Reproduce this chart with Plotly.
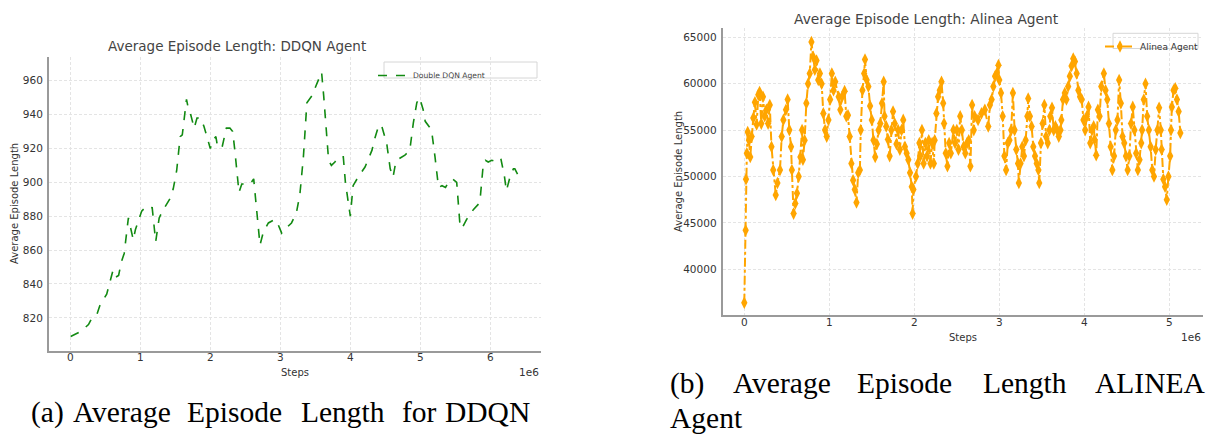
import plotly.graph_objects as go

W, H = 1212, 434

# ---------------- data ----------------
DDQN_STEPS_M = [0.005, 0.09, 0.15, 0.26, 0.31, 0.38, 0.42, 0.52, 0.59, 0.61,
                0.65, 0.69, 0.73, 0.77, 0.83, 0.90, 0.93, 1.02, 1.09, 1.17,
                1.22, 1.27, 1.33, 1.38, 1.42, 1.47, 1.52, 1.57, 1.60, 1.66,
                1.68, 1.72, 1.77, 1.81, 1.86, 1.91, 2.00, 2.04, 2.08, 2.10,
                2.14, 2.17, 2.23, 2.28, 2.32, 2.35, 2.41, 2.45, 2.52, 2.57,
                2.62, 2.71, 2.76, 2.83, 2.92, 2.95, 3.02, 3.06, 3.16, 3.23,
                3.28, 3.33, 3.38, 3.42, 3.45, 3.50, 3.56, 3.59, 3.62, 3.69,
                3.73, 3.78, 3.83, 3.90, 3.93, 4.00, 4.04, 4.11, 4.21, 4.31,
                4.35, 4.41, 4.45, 4.52, 4.57, 4.61, 4.65, 4.70, 4.78, 4.85,
                4.90, 4.95, 4.99, 5.04, 5.07, 5.13, 5.16, 5.21, 5.26, 5.31,
                5.36, 5.40, 5.46, 5.52, 5.57, 5.61, 5.66, 5.76, 5.81, 5.85,
                5.90, 5.93, 5.97, 6.02, 6.09, 6.15, 6.20, 6.23, 6.28, 6.33,
                6.35, 6.40]
DDQN_LENGTH = [809, 811, 812, 816, 820, 822, 827, 834, 846, 848,
               844, 845, 853, 858, 879, 866, 872, 883, 886, 885,
               865, 879, 884, 887, 890, 896, 907, 927, 928, 949,
               945, 940, 932, 938, 938, 933, 920, 925, 927, 922,
               923, 921, 932, 932, 930, 919, 894, 899, 899, 899,
               902, 863, 871, 876, 878, 877, 870, 872, 876, 882,
               893, 915, 947, 949, 951, 956, 962, 965, 951, 913,
               910, 912, 915, 915, 900, 880, 898, 903, 909, 919,
               926, 934, 933, 923, 908, 903, 912, 914, 916, 919,
               935, 947, 950, 943, 936, 933, 931, 915, 897, 898,
               897, 900, 902, 900, 873, 874, 878, 884, 886, 888,
               911, 913, 912, 913, 912, 914, 904, 895, 903, 908,
               908, 904]

ALINEA_STEPS_M = [0.00, 0.016, 0.02, 0.03, 0.04, 0.055, 0.07, 0.086, 0.106, 0.125,
                  0.145, 0.165, 0.18, 0.20, 0.22, 0.24, 0.26, 0.28, 0.30, 0.32,
                  0.34, 0.37, 0.39, 0.42, 0.44, 0.46, 0.49, 0.51, 0.53, 0.55,
                  0.56, 0.58, 0.60, 0.62, 0.64, 0.66, 0.68, 0.69, 0.71, 0.73,
                  0.75, 0.77, 0.79, 0.81, 0.83, 0.85, 0.87, 0.89, 0.91, 0.93,
                  0.95, 0.97, 0.99, 1.01, 1.03, 1.05, 1.07, 1.11, 1.13, 1.15,
                  1.18, 1.20, 1.22, 1.24, 1.26, 1.28, 1.30, 1.32, 1.34, 1.36,
                  1.37, 1.39, 1.41, 1.42, 1.44, 1.46, 1.48, 1.50, 1.52, 1.54,
                  1.56, 1.58, 1.60, 1.62, 1.64, 1.65, 1.67, 1.69, 1.71, 1.73,
                  1.75, 1.77, 1.79, 1.81, 1.83, 1.85, 1.87, 1.89, 1.91, 1.93,
                  1.95, 1.97, 1.98, 1.99, 2.02, 2.04, 2.06, 2.07, 2.09, 2.11,
                  2.13, 2.15, 2.17, 2.19, 2.21, 2.23, 2.24, 2.26, 2.28, 2.30,
                  2.32, 2.34, 2.35, 2.37, 2.39, 2.41, 2.43, 2.46, 2.48, 2.50,
                  2.52, 2.54, 2.56, 2.58, 2.60, 2.62, 2.64, 2.66, 2.68, 2.70,
                  2.71, 2.75, 2.79, 2.83, 2.87, 2.89, 2.91, 2.93, 2.95, 2.97,
                  2.99, 3.00, 3.02, 3.04, 3.06, 3.08, 3.10, 3.12, 3.14, 3.16,
                  3.18, 3.20, 3.22, 3.23, 3.25, 3.27, 3.29, 3.31, 3.33, 3.34,
                  3.36, 3.38, 3.40, 3.42, 3.44, 3.46, 3.47, 3.49, 3.51, 3.53,
                  3.55, 3.57, 3.59, 3.60, 3.62, 3.64, 3.66, 3.68, 3.70, 3.72,
                  3.73, 3.75, 3.77, 3.79, 3.81, 3.83, 3.85, 3.87, 3.89, 3.91,
                  3.93, 3.95, 3.97, 3.99, 4.01, 4.03, 4.05, 4.07, 4.09, 4.11,
                  4.12, 4.14, 4.16, 4.18, 4.20, 4.23, 4.25, 4.27, 4.29, 4.31,
                  4.33, 4.35, 4.37, 4.39, 4.41, 4.43, 4.45, 4.47, 4.49, 4.51,
                  4.53, 4.55, 4.57, 4.59, 4.61, 4.63, 4.65, 4.67, 4.68, 4.70,
                  4.72, 4.74, 4.76, 4.78, 4.80, 4.82, 4.84, 4.86, 4.88, 4.90,
                  4.91, 4.93, 4.95, 4.97, 4.99, 5.01, 5.02, 5.03, 5.05, 5.07,
                  5.09, 5.11, 5.13]
ALINEA_LENGTH = [36400, 44200, 49700, 52500, 54800, 53900, 52100, 54300, 56300, 58000,
                 55600, 58800, 59100, 55700, 58600, 56500, 57200, 55700, 57700, 53200,
                 50700, 48000, 49300, 50700, 54300, 56100, 57200, 58300, 55000, 53200,
                 50700, 46000, 47100, 48200, 50000, 52100, 55000, 51800, 53900, 57900,
                 60000, 61100, 64500, 62900, 61500, 62500, 60400, 61100, 60000, 56800,
                 55000, 54300, 56100, 58300, 61100, 59300, 60200, 58600, 57200, 58600,
                 59200, 56500, 56600, 54300, 51400, 49600, 48600, 47200, 50400, 50700,
                 55000, 59300, 61100, 62600, 60400, 59700, 57600, 56100, 53900, 52100,
                 53500, 55000, 55700, 57900, 60200, 56500, 55400, 54000, 52200, 55000,
                 57000, 55700, 53500, 55000, 52900, 55000, 56100, 53200, 52500, 51800,
                 50400, 48900, 46000, 48600, 50000, 51400, 53600, 52200, 55000, 51400,
                 53600, 52200, 53900, 51400, 53600, 51400, 53900, 56800, 58600, 59300,
                 60200, 57900, 55700, 52500, 51100, 53600, 52500, 55000, 53600, 55000,
                 52900, 56500, 55000, 53200, 52500, 53600, 53900, 51100, 57700, 55000,
                 56500, 56100, 56800, 57200, 55400, 57700, 58300, 59700, 60800, 61100,
                 62000, 60400, 59000, 56500, 52200, 50700, 53600, 53900, 55000, 59000,
                 55000, 52900, 51400, 49300, 51400, 53200, 52200, 53900, 56500, 58400,
                 56500, 55400, 53200, 52200, 51400, 50700, 49300, 53600, 55700, 57700,
                 54300, 53600, 55000, 56500, 57400, 55000, 55400, 55000, 54300, 55000,
                 56100, 58300, 59000, 58300, 59700, 60800, 61900, 62700, 62400, 61100,
                 59300, 58600, 58300, 56100, 55000, 56500, 57500, 53600, 55000, 55400,
                 54000, 52300, 57200, 56500, 59700, 61100, 59300, 58300, 55700, 53200,
                 50700, 52200, 55000, 56100, 60400, 57900, 54300, 53600, 52200, 50700,
                 52200, 55700, 57500, 55000, 52500, 50700, 51800, 53600, 55000, 58300,
                 60000, 56500, 55000, 53200, 50700, 50000, 52900, 55000, 57400, 55000,
                 52900, 49700, 48900, 47500, 50000, 52200, 55000, 57500, 59300, 59500,
                 58300, 57000, 54700]

X_TICKS_M = [0, 1, 2, 3, 4, 5, 6]
DDQN_Y_TICKS = [820, 840, 860, 880, 900, 920, 940, 960]
ALINEA_X_TICKS_M = [0, 1, 2, 3, 4, 5]
ALINEA_Y_TICKS = [40000, 45000, 50000, 55000, 60000, 65000]

# ---------------- helpers ----------------
def px_x(p):
    return p / W

def px_y(p):
    return 1 - p / H

SANS = "DejaVu Sans"
SERIF = "Liberation Serif"
SPINE = "#9a9a9a"
GRID = "#e4e4e4"
TICKC = "#333333"

fig = go.Figure()

fig.add_trace(go.Scatter(
    x=[s * 1e6 for s in DDQN_STEPS_M], y=DDQN_LENGTH,
    mode="lines", name="Double DQN Agent",
    line=dict(color="#128a12", width=1.6, dash="dash"),
    xaxis="x", yaxis="y", legend="legend",
))
fig.add_trace(go.Scatter(
    x=[s * 1e6 for s in ALINEA_STEPS_M], y=ALINEA_LENGTH,
    mode="lines+markers", name="Alinea Agent",
    line=dict(color="#FFA500", width=2, dash="dashdot"),
    marker=dict(symbol="diamond-tall", size=9, color="#FFA500"),
    xaxis="x2", yaxis="y2", legend="legend2",
))

axis_common = dict(
    showgrid=True, gridcolor=GRID, gridwidth=0.8, griddash="3px,2px",
    showline=True, linecolor=SPINE, linewidth=2, ticks="",
    zeroline=False, tickfont=dict(family=SANS, size=10.5, color=TICKC),
)

fig.update_layout(
    width=W, height=H,
    margin=dict(l=0, r=0, t=0, b=0),
    paper_bgcolor="white", plot_bgcolor="white",
    showlegend=True,
    xaxis=dict(domain=[px_x(49), px_x(541)], range=[-0.304e6, 6.724e6],
               tickvals=[t * 1e6 for t in X_TICKS_M],
               ticktext=[str(t) for t in X_TICKS_M], anchor="y",
               ticklabelstandoff=-4, **axis_common),
    yaxis=dict(domain=[px_y(350.7), px_y(57.3)], range=[800.6, 973.8],
               tickvals=DDQN_Y_TICKS, ticktext=[str(t) for t in DDQN_Y_TICKS],
               anchor="x", ticklabelstandoff=2, **axis_common),
    xaxis2=dict(domain=[px_x(722.7), px_x(1203.3)], range=[-0.254e6, 5.4e6],
                tickvals=[t * 1e6 for t in ALINEA_X_TICKS_M],
                ticktext=[str(t) for t in ALINEA_X_TICKS_M], anchor="y2",
                ticklabelstandoff=-4, **axis_common),
    yaxis2=dict(domain=[px_y(315.3), px_y(28.3)], range=[35043, 65970],
                tickvals=ALINEA_Y_TICKS,
                ticktext=[str(t) for t in ALINEA_Y_TICKS], anchor="x2",
                ticklabelstandoff=2, **axis_common),
    legend=dict(x=px_x(373), y=px_y(61), xanchor="left", yanchor="top",
                bgcolor="rgba(0,0,0,0)", borderwidth=0,
                font=dict(family=SANS, size=7.6, color="#444")),
    legend2=dict(x=px_x(1100), y=px_y(32), xanchor="left", yanchor="top",
                 bgcolor="rgba(0,0,0,0)", borderwidth=0,
                 font=dict(family=SANS, size=9, color="#333")),
)

# legend frames
fig.add_shape(type="rect", xref="paper", yref="paper",
              x0=px_x(384), x1=px_x(537), y0=px_y(78), y1=px_y(62),
              line=dict(color="#d6d6d6", width=1), fillcolor="white", layer="below")
fig.add_shape(type="rect", xref="paper", yref="paper",
              x0=px_x(1113), x1=px_x(1198), y0=px_y(48.5), y1=px_y(33.3),
              line=dict(color="#d6d6d6", width=1), fillcolor="white", layer="below")

def ann(text, x, y, size, color="#333", family=SANS, xanchor="center",
        yanchor="middle", angle=0):
    fig.add_annotation(text=text, x=px_x(x), y=px_y(y), xref="paper",
                       yref="paper", showarrow=False, xanchor=xanchor,
                       yanchor=yanchor, textangle=angle,
                       font=dict(family=family, size=size, color=color))

# titles
ann("Average Episode Length: DDQN Agent", 237, 46.5, 13.5, "#444")
ann("Average Episode Length: Alinea Agent", 926, 19, 13.8, "#444")
# axis titles
ann("Steps", 295, 372, 10)
ann("1e6", 541, 372, 10.5, xanchor="right")
ann("Average Episode Length", 15, 204, 10, angle=-90)
ann("Steps", 963, 337, 10)
ann("1e6", 1203.3, 337, 10.5, xanchor="right")
ann("Average Episode Length", 678, 172, 10, angle=-90)

# captions (word by word, as set in the reference)
CAP = 29.5
ann("(a)", 29, 412, CAP, "#000", SERIF, xanchor="left")
for word, xc in [("Average", 122), ("Episode", 234.5), ("Length", 343),
                 ("for", 420), ("DDQN", 487.5)]:
    ann(word, xc, 412, CAP, "#000", SERIF)
ann("(b)", 668, 383, CAP, "#000", SERIF, xanchor="left")
for word, xc in [("Average", 781.5), ("Episode", 904.5), ("Length", 1025),
                 ("ALINEA", 1150)]:
    ann(word, xc, 383, CAP, "#000", SERIF)
ann("Agent", 668, 418, CAP, "#000", SERIF, xanchor="left")

fig.write_html("out.html")
